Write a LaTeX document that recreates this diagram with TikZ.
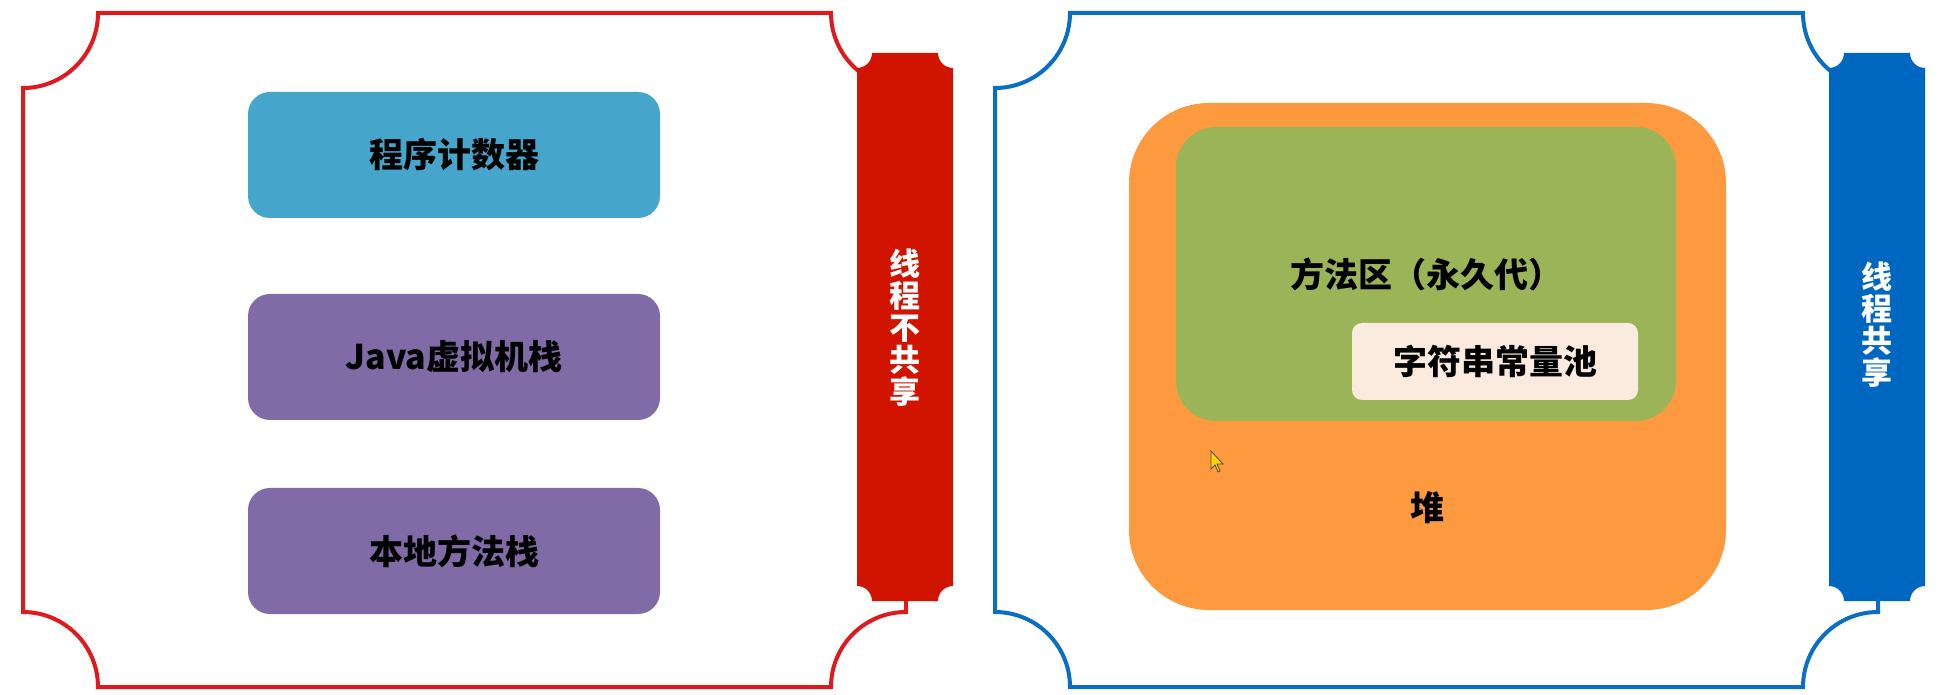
\documentclass[tikz,border=0pt]{standalone}
\usepackage{fontspec}
\newfontfamily\cjk{Noto Sans CJK SC}
\definecolor{framered}{HTML}{E0191E}
\definecolor{barred}{HTML}{D01400}
\definecolor{frameblue}{HTML}{0A6DC6}
\definecolor{barblue}{HTML}{0067C1}
\definecolor{pcblue}{HTML}{45A5CB}
\definecolor{stackpurple}{HTML}{806BA6}
\definecolor{heaporange}{HTML}{FD9A40}
\definecolor{methodgreen}{HTML}{9CB458}
\definecolor{poolcream}{HTML}{FBEBDF}
\tikzset{
  framepath/.style={line width=4pt, line join=miter},
  barshape/.style={draw=none},
  boxnode/.style={rounded corners=22pt, inner sep=0pt, text=black,
    font=\cjk\bfseries\fontsize{34}{40}\selectfont},
  bartext/.style={font=\cjk\bfseries\fontsize{31}{32}\selectfont, text=white,
    align=center, inner sep=0pt},
}
\begin{document}
\begin{tikzpicture}[x=1pt,y=1pt]
\useasboundingbox (0,0) rectangle (1944,694);
\fill[white] (0,0) rectangle (1944,694);
% ---------- left frame (thread private) ----------
\foreach \sx/\fc/\bc in {0/framered/barred, 972/frameblue/barblue}{
  \begin{scope}[xshift=\sx pt]
    \draw[framepath, draw=\fc]
      (23,606) arc[start angle=270, end angle=360, radius=75]
      -- (831,681) arc[start angle=180, end angle=270, radius=75]
      -- (906,82) arc[start angle=90, end angle=180, radius=75]
      -- (98,7) arc[start angle=0, end angle=90, radius=75]
      -- cycle;
    \fill[\bc]
      (857,626) arc[start angle=270, end angle=360, radius=15]
      -- (938,641) arc[start angle=180, end angle=270, radius=15]
      -- (953,108) arc[start angle=90, end angle=180, radius=15]
      -- (872,93) arc[start angle=0, end angle=90, radius=15]
      -- cycle;
  \end{scope}
}
\node[bartext] (privlabel) at (905,366) {线\\程\\不\\共\\享};
\node[bartext] (sharedlabel) at (1877,369) {线\\程\\共\\享};
% ---------- thread-private areas ----------
\node[boxnode, fill=pcblue, minimum width=412pt, minimum height=126pt] (pc) at (454,539) {程序计数器};
\node[boxnode, fill=stackpurple, minimum width=412pt, minimum height=126pt] (jvm) at (454,337) {Java虚拟机栈};
\node[boxnode, fill=stackpurple, minimum width=412pt, minimum height=126pt] (native) at (454,143) {本地方法栈};
% ---------- shared areas ----------
\node[boxnode, rounded corners=80pt, fill=heaporange, minimum width=597pt, minimum height=507pt] (heap) at (1427.5,337.5) {};
\node[boxnode, rounded corners=40pt, fill=methodgreen, minimum width=500pt, minimum height=294pt] (method) at (1426,420) {方法区（永久代）};
\node[boxnode, rounded corners=10pt, fill=poolcream, minimum width=286pt, minimum height=77pt] (pool) at (1495,332.5) {字符串常量池};
\node[boxnode] (heaplabel) at (1427,186) {堆};
% ---------- mouse cursor ----------
\filldraw[fill=yellow!70!orange, draw=black!70, line width=0.8pt]
  (1211,243) -- (1211,225) -- (1215,229) -- (1218,222) -- (1220,223) -- (1217,230) -- (1223,230) -- cycle;
\end{tikzpicture}
\end{document}
